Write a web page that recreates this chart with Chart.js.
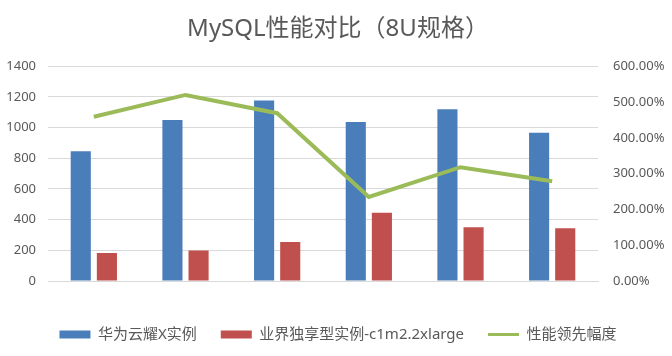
<!DOCTYPE html>
<html>
<head>
<meta charset="utf-8">
<script src="https://cdn.jsdelivr.net/npm/chart.js@4/dist/chart.umd.min.js"></script>
<style>
html,body{margin:0;padding:0;background:#fff;}
#wrap{width:672px;height:356px;}
</style>
</head>
<body>
<div id="wrap"><canvas id="c" width="672" height="356"></canvas></div>
<script>
const categories = ['50', '80', '100', '150', '200', '250'];
const huaweiValues = [846, 1050, 1177, 1037, 1120, 966];
const industryValues = [182, 199, 254, 445, 350, 344];
const leadPercent = [459, 520, 469, 235, 318, 279];
const seriesNames = ['华为云耀X实例', '业界独享型实例-c1m2.2xlarge', '性能领先幅度'];
const titleText = 'MySQL性能对比（8U规格）';

const FONT = "'Noto Sans', 'Noto Sans CJK SC', sans-serif";
const TXT = '#595959';
const GRID = '#d9d9d9';

Chart.defaults.font.family = FONT;
Chart.defaults.color = TXT;

new Chart(document.getElementById('c'), {
  data: {
    labels: categories,
    datasets: [
      { type: 'bar', label: seriesNames[0], data: huaweiValues, backgroundColor: '#4a7ebb', yAxisID: 'y', order: 2,
        categoryPercentage: 0.57, barPercentage: 0.77 },
      { type: 'bar', label: seriesNames[1], data: industryValues, backgroundColor: '#c0504d', yAxisID: 'y', order: 2,
        categoryPercentage: 0.57, barPercentage: 0.77 },
      { type: 'line', label: seriesNames[2], data: leadPercent, borderColor: '#9bbb59', backgroundColor: '#9bbb59',
        borderWidth: 4, pointRadius: 0, tension: 0, yAxisID: 'y2', order: 1 }
    ]
  },
  options: {
    responsive: false,
    animation: false,
    layout: { padding: { left: 4, right: 0, top: 0, bottom: 4 } },
    plugins: {
      title: { display: true, text: titleText, color: TXT, font: { size: 24, weight: 'normal', family: FONT },
        padding: { top: 15, bottom: 22.5 } },
      tooltip: { enabled: false },
      legend: {
        position: 'bottom',
        labels: {
          color: TXT,
          font: { size: 15, family: FONT },
          boxWidth: 31, boxHeight: 8,
          padding: 24,
          usePointStyle: true,
          pointStyleWidth: 31,
          sort: (a, b) => a.datasetIndex - b.datasetIndex,
          generateLabels(chart) {
            const items = Chart.defaults.plugins.legend.labels.generateLabels(chart);
            items.forEach(it => {
              const ds = chart.data.datasets[it.datasetIndex];
              if (ds.type === 'line') {
                it.pointStyle = 'line'; it.lineWidth = 3; it.strokeStyle = ds.borderColor; it.fillStyle = ds.borderColor;
              } else {
                it.pointStyle = 'rect'; it.lineWidth = 0; it.fillStyle = ds.backgroundColor; it.strokeStyle = ds.backgroundColor;
              }
            });
            return items;
          }
        }
      }
    },
    scales: {
      x: {
        grid: { display: false },
        border: { display: true, color: GRID, width: 1 },
        ticks: { color: TXT, font: { size: 13 }, padding: 12 },
        afterFit(s) { s.height = 22; }
      },
      y: {
        position: 'left', min: 0, max: 1400,
        ticks: { stepSize: 200, color: TXT, font: { size: 13 }, padding: 12, callback: v => String(v) },
        grid: { color: GRID, drawTicks: false },
        border: { display: false },
        afterFit(s) { s.width = 44; }
      },
      y2: {
        position: 'right', min: 0, max: 600,
        ticks: { stepSize: 100, color: TXT, font: { size: 13 }, padding: 15,
          callback: v => v.toFixed(2) + '%' },
        grid: { display: false, drawTicks: false },
        border: { display: false },
        afterFit(s) { s.width = 74; }
      }
    }
  }
});
</script>
</body>
</html>
